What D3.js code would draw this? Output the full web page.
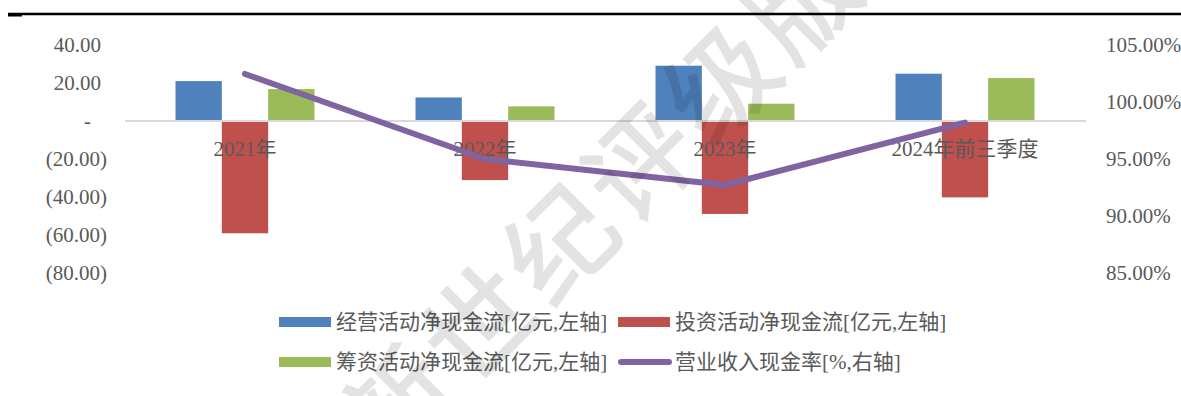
<!DOCTYPE html>
<html>
<head>
<meta charset="utf-8">
<script src="https://cdn.jsdelivr.net/npm/d3@7"></script>
<style>
html,body{margin:0;padding:0;background:#fff;}
svg{display:block;}
text{font-family:"Liberation Serif","Times New Roman","Noto Sans CJK SC",serif;fill:#595959;}
</style>
</head>
<body>
<svg id="chart" width="1181" height="396"></svg>
<script>
// ---- data ----
const categories = ["2021年", "2022年", "2023年", "2024年前三季度"];
const seriesNames = ["经营活动净现金流[亿元,左轴]", "投资活动净现金流[亿元,左轴]", "筹资活动净现金流[亿元,左轴]"];
const operatingCF = [21.0, 12.4, 29.1, 24.9];
const investingCF = [-59.1, -31.1, -48.9, -40.2];
const financingCF = [16.8, 7.7, 9.1, 22.6];
const lineName = "营业收入现金率[%,右轴]";
const cashRatio = [102.46, 95.0, 92.72, 98.19];
const leftTicks = [40, 20, 0, -20, -40, -60, -80];
const leftTickLabels = ["40.00", "20.00", "-", "(20.00)", "(40.00)", "(60.00)", "(80.00)"];
const rightTicks = [105, 100, 95, 90, 85];
const rightTickLabels = ["105.00%", "100.00%", "95.00%", "90.00%", "85.00%"];
const watermarkText = "新世纪评级版";

const colors = ["#4F81BD", "#C0504D", "#9BBB59"];
const lineColor = "#8064A2";
const barSeries = [operatingCF, investingCF, financingCF];

const svg = d3.select("#chart");

// top rule
svg.append("line").attr("x1", 8).attr("x2", 1181).attr("y1", 14).attr("y2", 14)
  .attr("stroke", "#000").attr("stroke-width", 2.5);
svg.append("rect").attr("x", 8).attr("y", 13).attr("width", 14).attr("height", 3.5).attr("fill", "#000");

// scales
const x = d3.scaleBand().domain(categories).range([125, 1085]).padding(0);
const xs = d3.scaleBand().domain(d3.range(3)).range([0, x.bandwidth()]).paddingInner(0).paddingOuter(1.09);
const yL = d3.scaleLinear().domain([-80, 40]).range([273, 45]);
const yR = d3.scaleLinear().domain([85, 105]).range([273, 45]);

// bars
const gBars = svg.append("g");
barSeries.forEach((vals, si) => {
  gBars.selectAll(".b" + si).data(vals).join("rect")
    .attr("x", (d, i) => x(categories[i]) + xs(si))
    .attr("width", xs.bandwidth())
    .attr("y", d => yL(Math.max(0, d)))
    .attr("height", d => Math.abs(yL(d) - yL(0)))
    .attr("fill", colors[si]);
});

// zero line
svg.append("line").attr("x1", 125).attr("x2", 1086).attr("y1", yL(0)).attr("y2", yL(0))
  .attr("stroke", "#d9d9d9").attr("stroke-width", 2);

// left axis
const axL = d3.axisLeft(yL).tickValues(leftTicks).tickSize(0).tickPadding(0)
  .tickFormat((d, i) => leftTickLabels[i]);
const gL = svg.append("g").attr("transform", "translate(107,0)").call(axL);
gL.select(".domain").remove();
gL.selectAll("text").attr("font-size", 21).attr("fill", "#595959")
  .style("font-family", '"Liberation Serif","Times New Roman",serif')
  .attr("dx", (d, i) => leftTickLabels[i].startsWith("(") ? 0 : (leftTickLabels[i] === "-" ? -16 : -6));

// right axis
const axR = d3.axisRight(yR).tickValues(rightTicks).tickSize(0).tickPadding(0)
  .tickFormat((d, i) => rightTickLabels[i]);
const gR = svg.append("g").attr("transform", "translate(1106,0)").call(axR);
gR.select(".domain").remove();
gR.selectAll("text").attr("font-size", 21).attr("fill", "#595959")
  .style("font-family", '"Liberation Serif","Times New Roman",serif');

// category labels
svg.append("g").selectAll("text").data(categories).join("text")
  .attr("x", d => x(d) + x.bandwidth() / 2)
  .attr("y", 156)
  .attr("text-anchor", "middle")
  .attr("font-size", 21)
  .text(d => d);

// line
const line = d3.line().x((d, i) => x(categories[i]) + x.bandwidth() / 2).y(d => yR(d));
svg.append("path").datum(cashRatio).attr("d", line)
  .attr("fill", "none").attr("stroke", lineColor).attr("stroke-width", 6)
  .attr("stroke-linecap", "round").attr("stroke-linejoin", "round");

// legend
const legend = svg.append("g");
const legItems = [
  {name: seriesNames[0], type: "rect", color: colors[0], x: 279, y: 322},
  {name: seriesNames[1], type: "rect", color: colors[1], x: 618, y: 322},
  {name: seriesNames[2], type: "rect", color: colors[2], x: 279, y: 362},
  {name: lineName, type: "line", color: lineColor, x: 618, y: 362}
];
legItems.forEach(it => {
  if (it.type === "rect") {
    legend.append("rect").attr("x", it.x).attr("y", it.y - 5).attr("width", 52).attr("height", 10).attr("fill", it.color);
  } else {
    legend.append("line").attr("x1", it.x + 3).attr("x2", it.x + 51).attr("y1", it.y).attr("y2", it.y)
      .attr("stroke", it.color).attr("stroke-width", 6).attr("stroke-linecap", "round");
  }
  legend.append("text").attr("x", it.x + 57).attr("y", it.y).attr("dy", "0.35em")
    .attr("font-size", 21).text(it.name);
});

// watermark
svg.append("text")
  .attr("transform", "translate(604,203) rotate(-45)")
  .attr("text-anchor", "middle").attr("dy", "0.35em")
  .attr("font-size", 108).attr("letter-spacing", 6)
  .style("font-family", '"Noto Sans CJK SC",sans-serif')
  .style("font-weight", 500)
  .style("fill", "#000").style("fill-opacity", 0.11)
  .text(watermarkText);
</script>
</body>
</html>
